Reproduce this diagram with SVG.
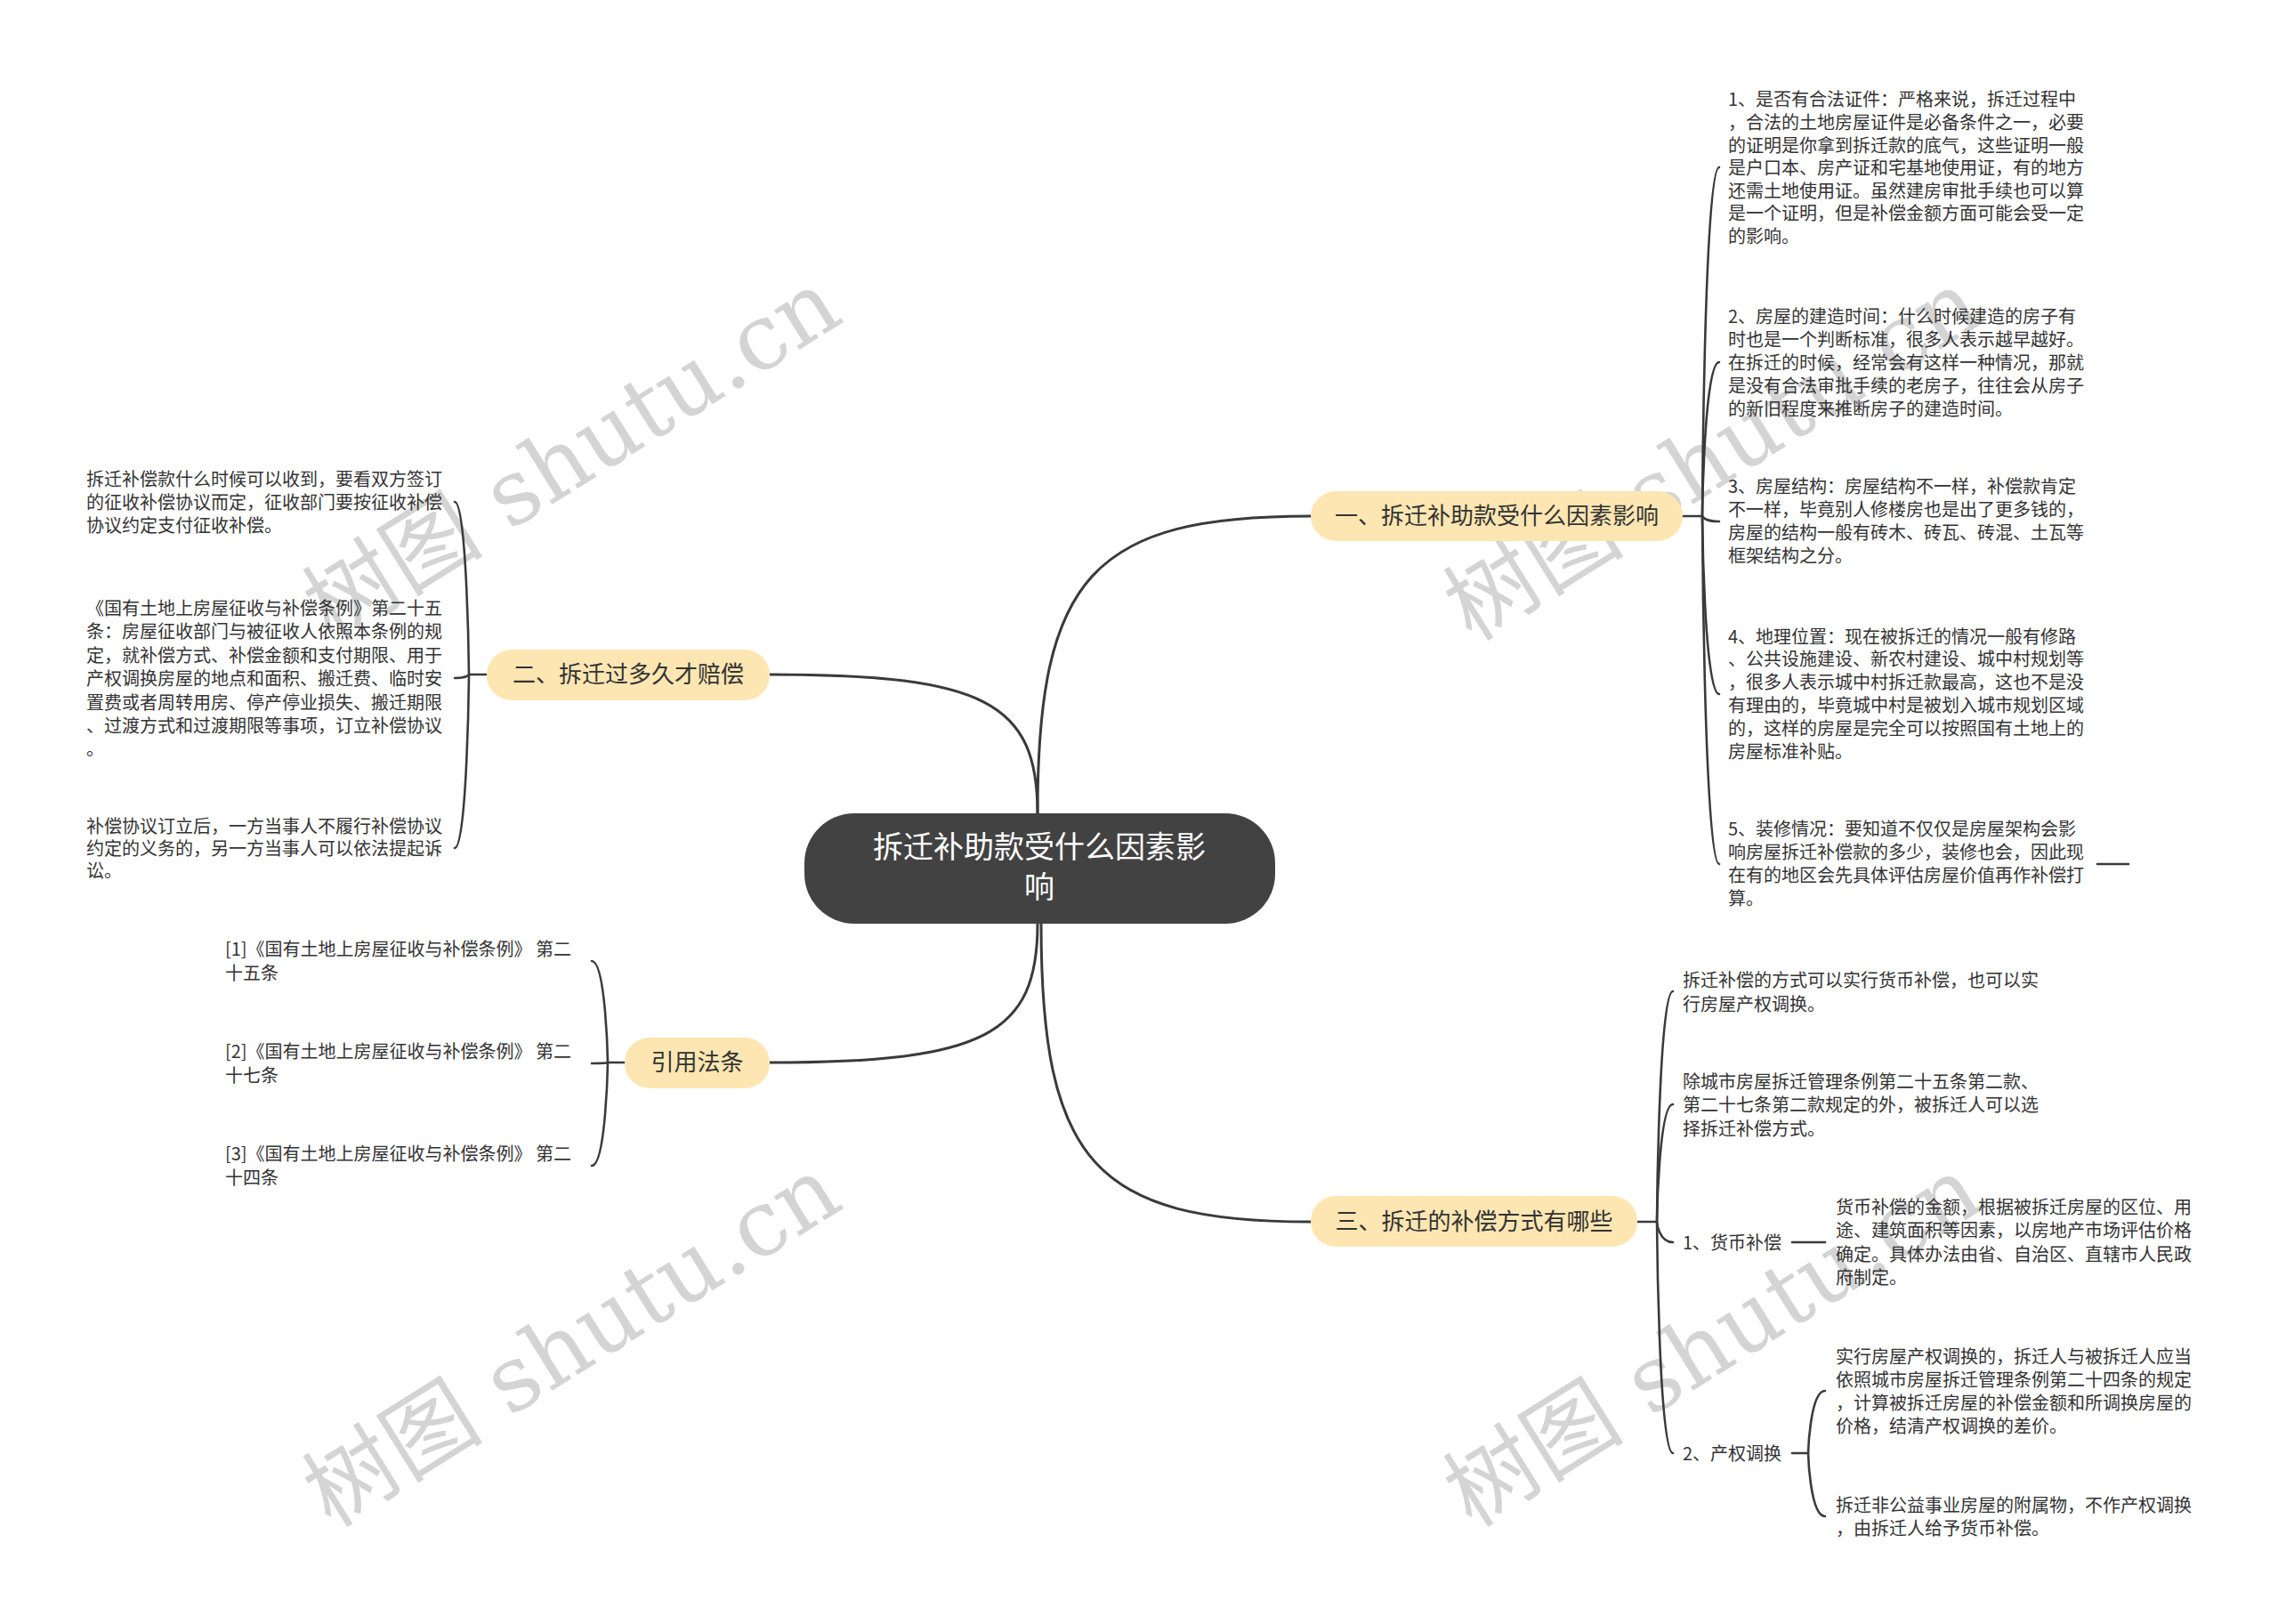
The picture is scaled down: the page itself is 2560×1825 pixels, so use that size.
<svg xmlns="http://www.w3.org/2000/svg" width="2560" height="1825" viewBox="0 0 2560 1825">
<style>
.wm{font-family:"DejaVu Serif","Noto Sans CJK SC",serif;font-size:102px;fill:#d4d4d4}
.leaf{font-family:"Noto Sans CJK SC","Noto Sans",sans-serif;font-size:20px;fill:#333333}
.br{font-family:"Noto Sans CJK SC","Noto Sans",sans-serif;font-size:26px;fill:#333333;text-anchor:middle}
.ctr{font-family:"Noto Sans CJK SC","Noto Sans",sans-serif;font-size:34px;fill:#ffffff;text-anchor:middle}
.bn{fill:#fde6b2}
.ln{fill:none;stroke:#3a3a3a;stroke-width:3;stroke-linecap:round}
.lt{fill:none;stroke:#3a3a3a;stroke-width:2.6;stroke-linecap:round}
</style>
<rect width="2560" height="1825" fill="#ffffff"/>
<g id="watermarks">
<text class="wm" transform="translate(372,722) rotate(-32)">树图 shutu.cn</text>
<text class="wm" transform="translate(1654,722) rotate(-32)">树图 shutu.cn</text>
<text class="wm" transform="translate(372,1718) rotate(-32)">树图 shutu.cn</text>
<text class="wm" transform="translate(1654,1718) rotate(-32)">树图 shutu.cn</text>
</g>
<g id="connectors">
<path class="ln" d="M1166 914 C1166 647 1229 580 1473 580"/>
<path class="ln" d="M1166 914 C1166 789 1106 758 865 758"/>
<path class="ln" d="M1166 1038 C1166 1163 1106 1194 865 1194"/>
<path class="ln" d="M1170 1038 C1170 1306 1231 1373 1473 1373"/>
<path class="lt" d="M1891 580 L1913 580"/>
<path class="lt" d="M1913 580 C1913 580 1915 188 1932 188"/>
<path class="lt" d="M1913 580 C1913 580 1915 407 1932 407"/>
<path class="lt" d="M1913 580 C1913 580 1915 586 1932 586"/>
<path class="lt" d="M1913 580 C1913 580 1915 780 1932 780"/>
<path class="lt" d="M1913 580 C1913 580 1915 971 1932 971"/>
<path class="lt" d="M2357 971 L2392 971"/>
<path class="lt" d="M547 758 L527 758"/>
<path class="lt" d="M527 758 C527 758 525 564 511 564"/>
<path class="lt" d="M527 758 C527 758 525 762 511 762"/>
<path class="lt" d="M527 758 C527 758 525 953 511 953"/>
<path class="lt" d="M702 1194 L683 1194"/>
<path class="lt" d="M683 1194 C683 1194 681 1080 665 1080"/>
<path class="lt" d="M683 1194 C683 1194 681 1195 665 1195"/>
<path class="lt" d="M683 1194 C683 1194 681 1310 665 1310"/>
<path class="lt" d="M1840 1373 L1862 1373"/>
<path class="lt" d="M1862 1373 C1862 1373 1864 1114 1880 1114"/>
<path class="lt" d="M1862 1373 C1862 1373 1864 1241 1880 1241"/>
<path class="lt" d="M1862 1373 C1862 1373 1864 1396 1880 1396"/>
<path class="lt" d="M1862 1373 C1862 1373 1864 1633 1880 1633"/>
<path class="lt" d="M2014 1396 L2051 1396"/>
<path class="lt" d="M2014 1633 L2032 1633"/>
<path class="lt" d="M2032 1633 C2032 1633 2034 1563 2051 1563"/>
<path class="lt" d="M2032 1633 C2032 1633 2034 1704 2051 1704"/>
</g>
<g id="center">
<rect x="904" y="914" width="529" height="124" rx="56" fill="#424242"/>
<text class="ctr" x="1168" y="964">拆迁补助款受什么因素影</text>
<text class="ctr" x="1168" y="1009">响</text>
</g>
<g id="branch1">
<rect class="bn" x="1473" y="552" width="418" height="56" rx="28"/>
<text class="br" x="1682" y="589">一、拆迁补助款受什么因素影响</text>
</g>
<g id="branch2">
<rect class="bn" x="547" y="730" width="318" height="57" rx="28"/>
<text class="br" x="706" y="767">二、拆迁过多久才赔偿</text>
</g>
<g id="branch-cite">
<rect class="bn" x="702" y="1166" width="163" height="57" rx="28"/>
<text class="br" x="783.5" y="1203">引用法条</text>
</g>
<g id="branch3">
<rect class="bn" x="1473" y="1344" width="367" height="57" rx="28"/>
<text class="br" x="1656.5" y="1382">三、拆迁的补偿方式有哪些</text>
</g>
<g id="b1-item1">
<text class="leaf" x="1942" y="119.3">1、是否有合法证件：严格来说，拆迁过程中</text>
<text class="leaf" x="1942" y="144.9">，合法的土地房屋证件是必备条件之一，必要</text>
<text class="leaf" x="1942" y="170.5">的证明是你拿到拆迁款的底气，这些证明一般</text>
<text class="leaf" x="1942" y="196.1">是户口本、房产证和宅基地使用证，有的地方</text>
<text class="leaf" x="1942" y="221.7">还需土地使用证。虽然建房审批手续也可以算</text>
<text class="leaf" x="1942" y="247.3">是一个证明，但是补偿金额方面可能会受一定</text>
<text class="leaf" x="1942" y="272.9">的影响。</text>
</g>
<g id="b1-item2">
<text class="leaf" x="1942" y="362.6">2、房屋的建造时间：什么时候建造的房子有</text>
<text class="leaf" x="1942" y="388.6">时也是一个判断标准，很多人表示越早越好。</text>
<text class="leaf" x="1942" y="414.6">在拆迁的时候，经常会有这样一种情况，那就</text>
<text class="leaf" x="1942" y="440.6">是没有合法审批手续的老房子，往往会从房子</text>
<text class="leaf" x="1942" y="466.6">的新旧程度来推断房子的建造时间。</text>
</g>
<g id="b1-item3">
<text class="leaf" x="1942" y="554.3">3、房屋结构：房屋结构不一样，补偿款肯定</text>
<text class="leaf" x="1942" y="580.3">不一样，毕竟别人修楼房也是出了更多钱的，</text>
<text class="leaf" x="1942" y="606.3">房屋的结构一般有砖木、砖瓦、砖混、土瓦等</text>
<text class="leaf" x="1942" y="632.3">框架结构之分。</text>
</g>
<g id="b1-item4">
<text class="leaf" x="1942" y="722.6">4、地理位置：现在被拆迁的情况一般有修路</text>
<text class="leaf" x="1942" y="748.4">、公共设施建设、新农村建设、城中村规划等</text>
<text class="leaf" x="1942" y="774.2">，很多人表示城中村拆迁款最高，这也不是没</text>
<text class="leaf" x="1942" y="800">有理由的，毕竟城中村是被划入城市规划区域</text>
<text class="leaf" x="1942" y="825.8">的，这样的房屋是完全可以按照国有土地上的</text>
<text class="leaf" x="1942" y="851.6">房屋标准补贴。</text>
</g>
<g id="b1-item5">
<text class="leaf" x="1942" y="939.3">5、装修情况：要知道不仅仅是房屋架构会影</text>
<text class="leaf" x="1942" y="965.3">响房屋拆迁补偿款的多少，装修也会，因此现</text>
<text class="leaf" x="1942" y="991.3">在有的地区会先具体评估房屋价值再作补偿打</text>
<text class="leaf" x="1942" y="1017.3">算。</text>
</g>
<g id="b2-item1">
<text class="leaf" x="97" y="546">拆迁补偿款什么时候可以收到，要看双方签订</text>
<text class="leaf" x="97" y="572">的征收补偿协议而定，征收部门要按征收补偿</text>
<text class="leaf" x="97" y="598">协议约定支付征收补偿。</text>
</g>
<g id="b2-item2">
<text class="leaf" x="97" y="691">《国有土地上房屋征收与补偿条例》第二十五</text>
<text class="leaf" x="97" y="717.4">条：房屋征收部门与被征收人依照本条例的规</text>
<text class="leaf" x="97" y="743.8">定，就补偿方式、补偿金额和支付期限、用于</text>
<text class="leaf" x="97" y="770.2">产权调换房屋的地点和面积、搬迁费、临时安</text>
<text class="leaf" x="97" y="796.6">置费或者周转用房、停产停业损失、搬迁期限</text>
<text class="leaf" x="97" y="823">、过渡方式和过渡期限等事项，订立补偿协议</text>
<text class="leaf" x="97" y="849.4">。</text>
</g>
<g id="b2-item3">
<text class="leaf" x="97" y="936">补偿协议订立后，一方当事人不履行补偿协议</text>
<text class="leaf" x="97" y="961">约定的义务的，另一方当事人可以依法提起诉</text>
<text class="leaf" x="97" y="986">讼。</text>
</g>
<g id="cite1">
<text class="leaf" x="253" y="1074.3">[1]《国有土地上房屋征收与补偿条例》 第二</text>
<text class="leaf" x="253" y="1100.9">十五条</text>
</g>
<g id="cite2">
<text class="leaf" x="253" y="1189.3">[2]《国有土地上房屋征收与补偿条例》 第二</text>
<text class="leaf" x="253" y="1215.9">十七条</text>
</g>
<g id="cite3">
<text class="leaf" x="253" y="1304.3">[3]《国有土地上房屋征收与补偿条例》 第二</text>
<text class="leaf" x="253" y="1330.9">十四条</text>
</g>
<g id="b3-item1">
<text class="leaf" x="1891" y="1109.3">拆迁补偿的方式可以实行货币补偿，也可以实</text>
<text class="leaf" x="1891" y="1135.9">行房屋产权调换。</text>
</g>
<g id="b3-item2">
<text class="leaf" x="1891" y="1222.6">除城市房屋拆迁管理条例第二十五条第二款、</text>
<text class="leaf" x="1891" y="1249.2">第二十七条第二款规定的外，被拆迁人可以选</text>
<text class="leaf" x="1891" y="1275.8">择拆迁补偿方式。</text>
</g>
<g id="b3-money">
<text class="leaf" x="1891" y="1403.6">1、货币补偿</text>
</g>
<g id="b3-money-detail">
<text class="leaf" x="2063" y="1364.3">货币补偿的金额，根据被拆迁房屋的区位、用</text>
<text class="leaf" x="2063" y="1390.4">途、建筑面积等因素，以房地产市场评估价格</text>
<text class="leaf" x="2063" y="1416.5">确定。具体办法由省、自治区、直辖市人民政</text>
<text class="leaf" x="2063" y="1442.6">府制定。</text>
</g>
<g id="b3-swap">
<text class="leaf" x="1891" y="1640.6">2、产权调换</text>
</g>
<g id="b3-swap-detail1">
<text class="leaf" x="2063" y="1531.6">实行房屋产权调换的，拆迁人与被拆迁人应当</text>
<text class="leaf" x="2063" y="1557.8">依照城市房屋拆迁管理条例第二十四条的规定</text>
<text class="leaf" x="2063" y="1584">，计算被拆迁房屋的补偿金额和所调换房屋的</text>
<text class="leaf" x="2063" y="1610.2">价格，结清产权调换的差价。</text>
</g>
<g id="b3-swap-detail2">
<text class="leaf" x="2063" y="1699.3">拆迁非公益事业房屋的附属物，不作产权调换</text>
<text class="leaf" x="2063" y="1725">，由拆迁人给予货币补偿。</text>
</g>
</svg>
